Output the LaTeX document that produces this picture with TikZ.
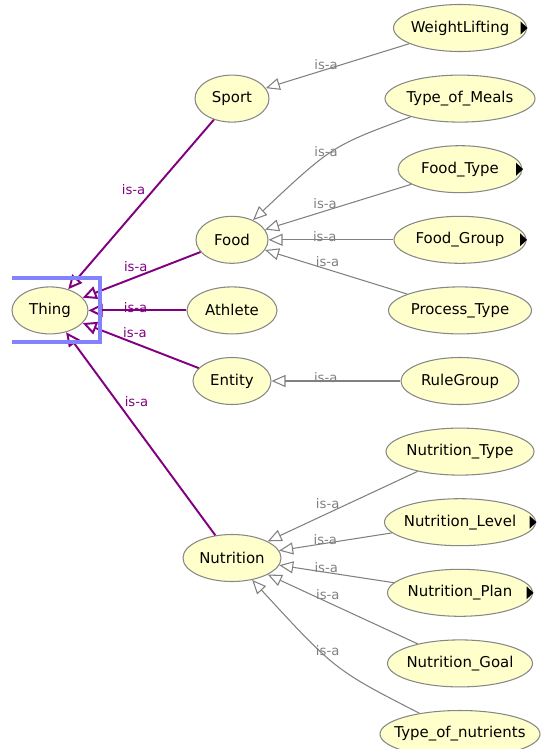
\documentclass[tikz,border=0pt]{standalone}
\usepackage{fontspec}
\usepackage{tikz}
\usetikzlibrary{positioning}
\usetikzlibrary{shapes,shapes.geometric,arrows.meta}
\newfontfamily\ontofont{DejaVu Sans}
\definecolor{conceptfill}{RGB}{255,255,204}
\definecolor{conceptline}{RGB}{135,135,135}
\definecolor{edgegray}{RGB}{128,128,128}
\definecolor{isapurple}{RGB}{128,0,128}
\definecolor{selblue}{RGB}{130,130,255}
\tikzstyle{concept} = [ellipse, draw=conceptline, fill=conceptfill, line width=0.6pt, inner xsep=-0.25cm, inner ysep=0pt, minimum height=0.94cm, text=black, font=\ontofont\fontsize{8.5}{10}\selectfont]
\tikzstyle{isa} = [draw=edgegray, line width=0.6pt, -{Triangle[open, fill=white, length=0.28cm, width=0.24cm]}]
\tikzstyle{subof} = [draw=isapurple, line width=1.1pt, -{Triangle[open, length=0.28cm, width=0.26cm]}]
\tikzstyle{isalab} = [inner sep=0pt, text=edgegray, font=\ontofont\fontsize{7.5}{9}\selectfont]
\tikzstyle{toplab} = [inner sep=0pt, text=isapurple, font=\ontofont\fontsize{7.5}{9}\selectfont]
\tikzstyle{selbox} = [draw=selblue, line width=1.8pt]
% small black marker for classes with hidden children
\newcommand{\hasmore}[1]{\fill (#1.east) ++(0.01,0) -- ++(-0.14,0.13) -- ++(0,-0.26) -- cycle;}

\begin{document}
\begin{tikzpicture}[node distance=1.412cm]
	\clip (0,0) rectangle (10.84,-14.98);
	% right column
	\node [concept, minimum width=2.66cm] (WeightLifting) at (9.2,-0.56) {WeightLifting};
	\node [concept, below of=WeightLifting, minimum width=3.0cm]  (TypeOfMeals) {Type\_of\_Meals};
	\node [concept, below of=TypeOfMeals, minimum width=2.48cm]   (FoodType) {Food\_Type};
	\node [concept, below of=FoodType, minimum width=2.64cm]      (FoodGroup) {Food\_Group};
	\node [concept, below of=FoodGroup, minimum width=2.86cm]     (ProcessType) {Process\_Type};
	\node [concept, below of=ProcessType, minimum width=2.36cm]   (RuleGroup) {RuleGroup};
	\node [concept, below of=RuleGroup, minimum width=2.96cm]     (NutritionType) {Nutrition\_Type};
	\node [concept, below of=NutritionType, minimum width=3.02cm] (NutritionLevel) {Nutrition\_Level};
	\node [concept, below of=NutritionLevel, minimum width=2.9cm] (NutritionPlan) {Nutrition\_Plan};
	\node [concept, below of=NutritionPlan, minimum width=2.9cm]  (NutritionGoal) {Nutrition\_Goal};
	\node [concept, below of=NutritionGoal, minimum width=3.2cm]  (TypeOfNutrients) {Type\_of\_nutrients};

	% middle column
	\node [concept, left of=TypeOfMeals, node distance=4.56cm, minimum width=1.48cm] (Sport) {Sport};
	\node [concept, left of=FoodGroup, node distance=4.56cm, minimum width=1.44cm]   (Food) {Food};
	\node [concept, left of=ProcessType, node distance=4.56cm, minimum width=1.8cm]  (Athlete) {Athlete};
	\node [concept, left of=RuleGroup, node distance=4.56cm, minimum width=1.56cm]   (Entity) {Entity};
	\node [concept, below of=Entity, node distance=3.54cm, minimum width=1.96cm]     (Nutrition) {Nutrition};

	% root
	\node [concept, left of=Athlete, node distance=3.64cm, minimum width=1.52cm] (Thing) {Thing};

	\hasmore{WeightLifting}
	\hasmore{FoodType}
	\hasmore{FoodGroup}
	\hasmore{NutritionLevel}
	\hasmore{NutritionPlan}

	% draw edges to Thing
	\path [subof] (Sport) -- node [toplab, pos=.41, left=0.16cm] {is-a} (Thing);
	\path [subof] (Food) -- node [toplab, pos=.55, above=0.08cm] {is-a} (Thing);
	\path [subof] (Athlete) -- node [toplab, pos=.52, yshift=0.06cm] {is-a} (Thing);
	\path [subof] (Entity) -- node [toplab, pos=.55, above=0.1cm] {is-a} (Thing);
	\path [subof] (Nutrition) -- node [toplab, pos=.66, right=0.14cm] {is-a} (Thing);

	% draw subclass edges
	\path [isa] (WeightLifting) -- node [isalab, pos=.58, yshift=0.1cm] {is-a} (Sport);
	\path [isa] (TypeOfMeals) .. controls (6.64,-2.92) .. (Food) node [isalab, pos=.55, yshift=0.08cm] {is-a};
	\path [isa] (FoodType) -- node [isalab, pos=.59, yshift=0.14cm] {is-a} (Food);
	\path [isa] (FoodGroup) -- node [isalab, pos=.55, yshift=0.06cm] {is-a} (Food);
	\path [isa] (ProcessType) -- node [isalab, pos=.56, yshift=0.16cm] {is-a} (Food);
	\path [isa] (RuleGroup) -- node [isalab, pos=.58, yshift=0.06cm] {is-a} (Entity);
	\path [isa] (NutritionType) -- node [isalab, pos=.6, yshift=0.2cm] {is-a} (Nutrition);
	\path [isa] (NutritionLevel) -- node [isalab, pos=.59, yshift=0.08cm] {is-a} (Nutrition);
	\path [isa] (NutritionPlan) -- node [isalab, pos=.59, yshift=0.1cm] {is-a} (Nutrition);
	\path [isa] (NutritionGoal) -- node [isalab, pos=.6, yshift=0.16cm] {is-a} (Nutrition);
	\path [isa] (TypeOfNutrients) .. controls (6.7,-13.4) .. (Nutrition) node [isalab, pos=.56, yshift=0.14cm] {is-a};

	% selection frame round Thing
	\draw [selbox] (0.24,-5.56) -- (2.0,-5.56) -- (2.0,-6.84) -- (0.24,-6.84);
\end{tikzpicture}
\end{document}
